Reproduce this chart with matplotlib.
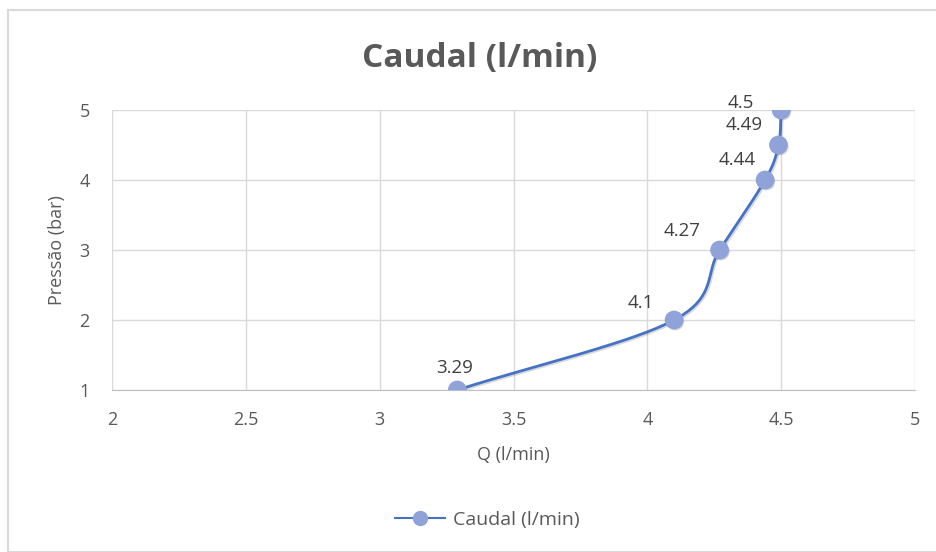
import numpy as np
import matplotlib
matplotlib.use("Agg")
import matplotlib.pyplot as plt
from matplotlib.patches import Rectangle
import matplotlib.patheffects as pe

q_values = [3.29, 4.1, 4.27, 4.44, 4.49, 4.5]
p_values = [1, 2, 3, 4, 4.5, 5]
labels = ["3.29", "4.1", "4.27", "4.44", "4.49", "4.5"]
series_name = "Caudal (l/min)"

plt.rcParams['font.family'] = ['Open Sans', 'DejaVu Sans']
txt = '#595959'

fig = plt.figure(figsize=(9.36, 5.52), dpi=100)
fig.patches.append(Rectangle((8/936, 0), 1, 1 - 10/552, transform=fig.transFigure,
                             fill=False, edgecolor='#d9d9d9', linewidth=1.5))
ax = fig.add_axes([112/936, 1 - 390/552, (915-112)/936, (390-110)/552])

# Catmull-Rom style smoothing (like Excel smoothed line), in display proportions
x = np.array(q_values); y = np.array(p_values)
def to_disp(xx, yy):
    return (xx - 2) / 3 * 803, (yy - 1) / 4 * 280
def from_disp(u, v):
    return u / 803 * 3 + 2, v / 280 * 4 + 1
U, V = to_disp(x, y)
pts = np.column_stack([U, V])
ext = np.vstack([pts[0] - (pts[1] - pts[0]), pts, pts[-1] + (pts[-1] - pts[-2])])
cu, cv = [], []
for i in range(1, len(ext) - 2):
    p0, p1, p2, p3 = ext[i-1], ext[i], ext[i+1], ext[i+2]
    c1 = p1 + (p2 - p0) / 6
    c2 = p2 - (p3 - p1) / 6
    t = np.linspace(0, 1, 40)[:, None]
    seg = (1-t)**3*p1 + 3*(1-t)**2*t*c1 + 3*(1-t)*t**2*c2 + t**3*p2
    cu.extend(seg[:, 0]); cv.extend(seg[:, 1])
sx, sy = from_disp(np.array(cu), np.array(cv))

ax.plot(sx, sy, color='#4472C4', linewidth=2, zorder=3,
        path_effects=[pe.SimpleLineShadow(offset=(1, -1), alpha=0.15), pe.Normal()])
ax.plot(x, y, linestyle='none', marker='o', markersize=12.5, markerfacecolor='#8FA3D9',
        markeredgecolor='#8FA3D9', zorder=4,
        path_effects=[pe.SimplePatchShadow(offset=(1, -1.2), alpha=0.25, shadow_rgbFace='#555555'),
                      pe.Normal()])
ax.plot([], [], color='#4472C4', linewidth=1.5, marker='o', markersize=10,
        markerfacecolor='#8FA3D9', markeredgecolor='#8FA3D9', label=series_name)

offsets = [(-2, 15.5), (-24, 12.5), (-27, 13.5), (-20, 14.5), (-25, 14.5), (-29, 5)]
for xi, yi, lab, off in zip(x, y, labels, offsets):
    ax.annotate(lab, (xi, yi), xytext=off, textcoords='offset points',
                ha='center', va='center', fontsize=13.5, color='#404040')
ax.plot([4.477, 4.49], [5.02, 5.02], color='#a6a6a6', linewidth=0.8)

ax.set_xlim(2, 5)
ax.set_ylim(1, 5)
ax.set_xticks([2, 2.5, 3, 3.5, 4, 4.5, 5])
ax.set_xticklabels(['2', '2.5', '3', '3.5', '4', '4.5', '5'])
ax.set_yticks([1, 2, 3, 4, 5])
ax.grid(True, color='#d9d9d9', linewidth=1)
ax.set_axisbelow(True)
for s in ['top', 'right', 'left']:
    ax.spines[s].set_visible(False)
ax.spines['bottom'].set_color('#bfbfbf')
ax.tick_params(length=0, labelsize=13, labelcolor=txt)
ax.tick_params(axis='x', pad=15)
ax.tick_params(axis='y', pad=16)
ax.set_xlabel('Q (l/min)', fontsize=13, color=txt, labelpad=12)
ax.set_ylabel('Pressão (bar)', fontsize=13, color=txt, labelpad=10)
fig.text(0.512, 1 - 59/552, 'Caudal (l/min)', ha='center', va='center',
         fontsize=24, fontweight='bold', color=txt)
fig.legend(loc='center', bbox_to_anchor=(487/936, 1 - 520/552), frameon=False,
           fontsize=14, labelcolor=txt, handlelength=2.6, handletextpad=0.4)

fig.savefig('out.png', dpi=100)
